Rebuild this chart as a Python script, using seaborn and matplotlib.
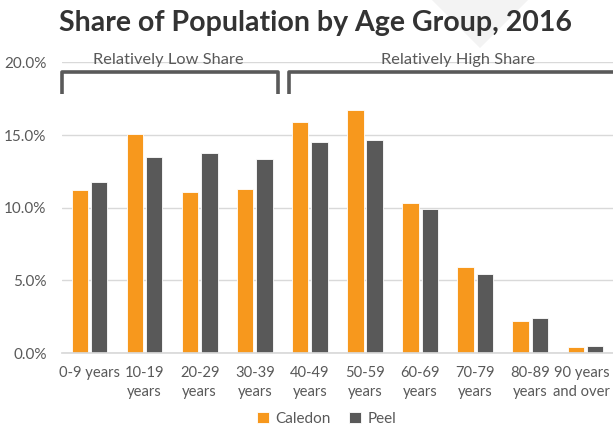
import matplotlib
matplotlib.use("Agg")
import matplotlib.pyplot as plt
import matplotlib.transforms as mtransforms
import seaborn as sns
import pandas as pd
from matplotlib.lines import Line2D
from matplotlib.patches import Polygon
from matplotlib.ticker import PercentFormatter

age_groups = ["0-9 years", "10-19\nyears", "20-29\nyears", "30-39\nyears", "40-49\nyears",
              "50-59\nyears", "60-69\nyears", "70-79\nyears", "80-89\nyears", "90 years\nand over"]
caledon = [11.2, 15.1, 11.1, 11.3, 15.9, 16.7, 10.3, 5.9, 2.2, 0.4]
peel = [11.8, 13.5, 13.8, 13.35, 14.5, 14.7, 9.95, 5.45, 2.4, 0.5]
series = ["Caledon", "Peel"]
colors = ["#F7981D", "#595959"]

df = pd.DataFrame({
    "age": age_groups * 2,
    "share": caledon + peel,
    "region": [series[0]] * len(age_groups) + [series[1]] * len(age_groups),
})

sns.set_theme(style="white")
plt.rcParams["font.family"] = ["Lato", "DejaVu Sans"]
text_grey = "#595959"

fig = plt.figure(figsize=(6.13, 4.28), dpi=100)

# faint decorative chevron behind the title
fig.patches.append(Polygon([[432 / 613, 1.0], [528 / 613, 1.0], [480 / 613, 1 - 48 / 428]],
                           closed=True, transform=fig.transFigure, facecolor="#F3F3F3",
                           edgecolor="none", zorder=0))

ax = fig.add_axes([0.101, 0.175, 0.899, 0.679])
ax.patch.set_alpha(0)

sns.barplot(data=df, x="age", y="share", hue="region", palette=colors,
            width=0.7, gap=0.15, ax=ax, saturation=1, edgecolor="white", linewidth=0.6,
            legend=True)

ax.set_ylim(0, 20)
ax.set_xlim(-0.5, 9.5)
ax.set_yticks([0, 5, 10, 15, 20])
ax.yaxis.set_major_formatter(PercentFormatter(decimals=1))
ax.grid(axis="y", color="#D9D9D9", linewidth=1)
ax.set_axisbelow(True)
for s in ["top", "right", "left"]:
    ax.spines[s].set_visible(False)
ax.spines["bottom"].set_color("#D9D9D9")
ax.tick_params(axis="y", colors=text_grey, labelsize=11, length=0, pad=11)
ax.tick_params(axis="x", colors=text_grey, labelsize=10.6, length=0, pad=9)
for lbl in ax.get_xticklabels():
    lbl.set_linespacing(1.5)
# nudge the last label left so it stays inside the figure
last = ax.get_xticklabels()[-1]
last.set_transform(last.get_transform() + mtransforms.ScaledTranslation(-4 / 100, 0, fig.dpi_scale_trans))
ax.set_xlabel("")
ax.set_ylabel("")

# Group brackets
bracket_kw = dict(color=text_grey, linewidth=2.6, clip_on=False, solid_capstyle="butt")
ax.add_line(Line2D([-0.49, -0.49, 3.43, 3.43], [17.8, 19.35, 19.35, 17.8], **bracket_kw))
ax.add_line(Line2D([3.62, 3.62, 9.6], [17.8, 19.35, 19.35], **bracket_kw))
ax.text(1.43, 20.2, "Relatively Low Share", ha="center", va="center", color=text_grey, fontsize=11.8)
ax.text(6.68, 20.2, "Relatively High Share", ha="center", va="center", color=text_grey, fontsize=11.8)

fig.text(0.515, 0.946, "Share of Population by Age Group, 2016", ha="center", va="center",
         fontsize=20.5, fontweight="bold", color="#333333")

leg = ax.legend(loc="center", bbox_to_anchor=(0.48, -0.226), ncol=2, frameon=False,
                fontsize=11, handlelength=0.8, handleheight=0.8, handletextpad=0.4,
                columnspacing=1.2, borderpad=0.2)
for t in leg.get_texts():
    t.set_color(text_grey)

fig.savefig("out.png", dpi=100)
